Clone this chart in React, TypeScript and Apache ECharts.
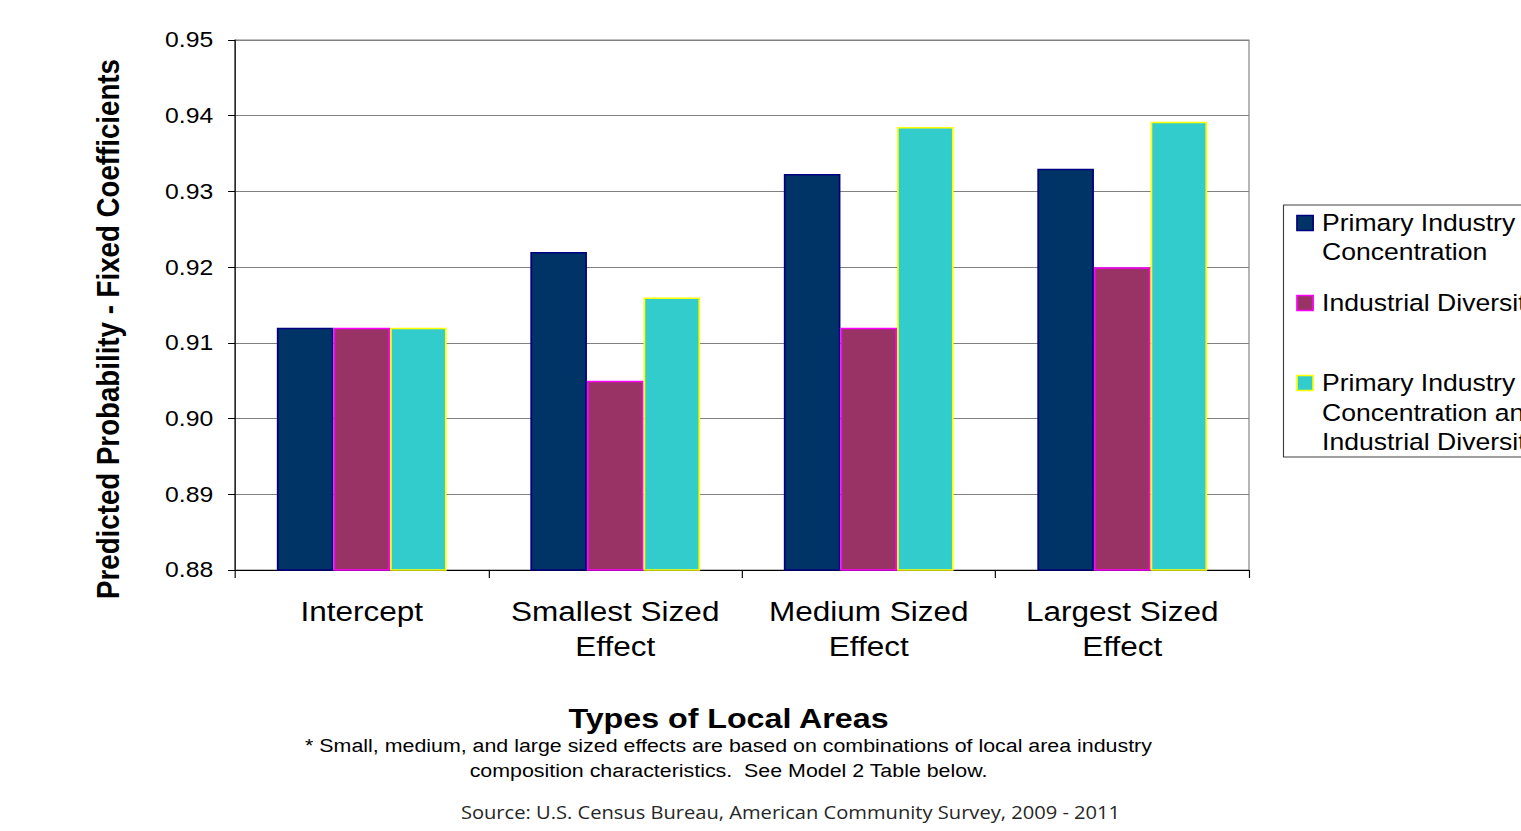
import { useEffect, useRef } from "react";
import * as echarts from "echarts";

// The whole drawing is laid out in a narrower box and widened horizontally.
const STRETCH = 1.15;
const PAGE_W = 1521;
const PAGE_H = 831;
const CHART_W = PAGE_W / STRETCH;

const FONT = "'Liberation Sans', Arial, Helvetica, sans-serif";

const categories = [
  "Intercept",
  "Smallest Sized\nEffect",
  "Medium Sized\nEffect",
  "Largest Sized\nEffect",
];

const seriesNames = [
  "Primary Industry Concentration",
  "Industrial Diversity",
  "Primary Industry Concentration and Industrial Diversity",
];

const legendLines = [
  ["Primary Industry", "Concentration"],
  ["Industrial Diversity"],
  ["Primary Industry", "Concentration and", "Industrial Diversity"],
];

const primaryConcentration = [0.912, 0.922, 0.9323, 0.933];
const industrialDiversity = [0.912, 0.905, 0.912, 0.92];
const concentrationAndDiversity = [0.912, 0.916, 0.9385, 0.9392];

const yMin = 0.88;
const yMax = 0.95;
const yStep = 0.01;

const fills = ["#003366", "#993366", "#33CCCC"];
const borders = ["#000080", "#FF00FF", "#FFFF00"];

const yTitle = "Predicted Probability - Fixed Coefficients";
const xTitle = "Types of Local Areas";
const footnote =
  "* Small, medium, and large sized effects are based on combinations of local area industry\ncomposition characteristics.  See Model 2 Table below.";
const source = "Source: U.S. Census Bureau, American Community Survey, 2009 - 2011";

function buildLegend() {
  const left = 1283.5 / STRETCH;
  const markerX = 1297 / STRETCH;
  const textX = 1322 / STRETCH;
  const lineYs = [[223, 252], [303], [383, 412.5, 442]];
  const els: any[] = [
    {
      type: "rect",
      shape: { x: left, y: 205, width: 400, height: 252 },
      style: { fill: "#fff", stroke: "#404040", lineWidth: 1 },
      z: 10,
    },
  ];
  legendLines.forEach((lines, i) => {
    const ys = lineYs[i];
    els.push({
      type: "rect",
      shape: { x: markerX, y: ys[0] - 7.5, width: 14, height: 15 },
      style: { fill: fills[i], stroke: borders[i], lineWidth: 1.5 },
      z: 11,
    });
    lines.forEach((t, j) => {
      els.push({
        type: "text",
        x: textX,
        y: ys[j],
        z: 11,
        style: {
          text: t,
          fontSize: 23.1,
          fontFamily: FONT,
          fill: "#000",
          align: "left",
          textAlign: "left",
          verticalAlign: "middle",
          textVerticalAlign: "middle",
        },
      });
    });
  });
  return els;
}

export default function App() {
  const ref = useRef<HTMLDivElement>(null);

  useEffect(() => {
    document.body.style.margin = "0";
    document.body.style.overflow = "hidden";
    if (!ref.current) return;
    const chart = echarts.init(ref.current, null, { renderer: "svg" });

    const values = [primaryConcentration, industrialDiversity, concentrationAndDiversity];

    chart.setOption({
      animation: false,
      backgroundColor: "#fff",
      grid: {
        left: 235 / STRETCH,
        top: 40,
        width: (1249 - 235) / STRETCH,
        height: 530,
        show: true,
        borderColor: "#808080",
        borderWidth: 1,
        backgroundColor: "transparent",
      },
      xAxis: {
        type: "category",
        data: categories,
        axisLine: { lineStyle: { color: "#000", width: 1 } },
        axisTick: { show: true, length: 8, lineStyle: { color: "#000" } },
        axisLabel: {
          interval: 0,
          margin: 24,
          fontSize: 27.4,
          lineHeight: 35,
          fontFamily: FONT,
          color: "#000",
        },
        splitLine: { show: false },
      },
      yAxis: {
        type: "value",
        min: yMin,
        max: yMax,
        interval: yStep,
        axisLine: { show: true, lineStyle: { color: "#000", width: 1 } },
        axisTick: { show: true, length: 6, lineStyle: { color: "#000" } },
        axisLabel: {
          margin: 19,
          fontSize: 21.5,
          fontFamily: FONT,
          color: "#000",
          formatter: (v: number) => v.toFixed(2),
        },
        splitLine: { show: true, lineStyle: { color: "#808080", width: 1 } },
      },
      series: values.map((data, i) => ({
        name: seriesNames[i],
        type: "bar",
        data,
        barGap: "0%",
        barCategoryGap: "33%",
        itemStyle: { color: fills[i], borderColor: borders[i], borderWidth: 1.5 },
      })),
      graphic: [
        {
          type: "text",
          x: 108 / STRETCH,
          y: 329,
          rotation: Math.PI / 2,
          style: {
            text: yTitle,
            fontSize: 27.7,
            fontWeight: "bold",
            fontFamily: FONT,
            fill: "#000",
            align: "center",
            textAlign: "center",
            verticalAlign: "middle",
            textVerticalAlign: "middle",
          },
        },
        {
          type: "text",
          x: 728.5 / STRETCH,
          y: 718,
          style: {
            text: xTitle,
            fontSize: 28,
            fontWeight: "bold",
            fontFamily: FONT,
            fill: "#000",
            align: "center",
            textAlign: "center",
            verticalAlign: "middle",
            textVerticalAlign: "middle",
          },
        },
        {
          type: "text",
          x: 728.5 / STRETCH,
          y: 758.5,
          style: {
            text: footnote,
            fontSize: 18.6,
            lineHeight: 25,
            fontFamily: FONT,
            fill: "#000",
            align: "center",
            textAlign: "center",
            verticalAlign: "middle",
            textVerticalAlign: "middle",
          },
        },
        {
          type: "text",
          x: 790.5 / STRETCH,
          y: 813,
          style: {
            text: source,
            fontSize: 17.5,
            fontFamily: "'Open Sans', 'Noto Sans', sans-serif",
            fill: "#262626",
            align: "center",
            textAlign: "center",
            verticalAlign: "middle",
            textVerticalAlign: "middle",
          },
        },
        ...buildLegend(),
      ],
    });

    return () => chart.dispose();
  }, []);

  return (
    <div
      ref={ref}
      style={{
        position: "absolute",
        left: 0,
        top: 0,
        width: CHART_W,
        height: PAGE_H,
        transform: `scaleX(${STRETCH})`,
        transformOrigin: "0 0",
      }}
    />
  );
}
